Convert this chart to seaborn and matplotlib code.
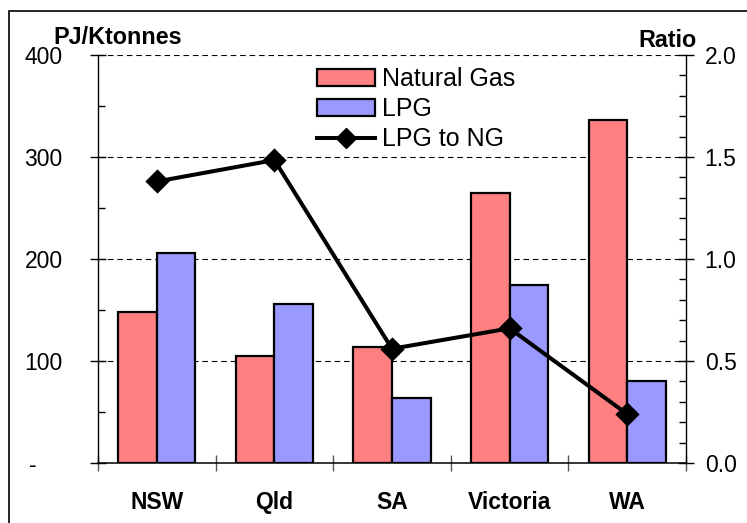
import numpy as np
import pandas as pd
import matplotlib
matplotlib.use("Agg")
import matplotlib.pyplot as plt
import matplotlib.patches as mpatches
from matplotlib.lines import Line2D
from matplotlib.ticker import MultipleLocator, FixedLocator, FormatStrFormatter
import seaborn as sns

plt.rcParams['font.family'] = ['Liberation Sans', 'DejaVu Sans']

regions = ["NSW", "Qld", "SA", "Victoria", "WA"]
natural_gas = [148, 105, 114, 265, 336]
lpg = [206, 156, 64, 175, 80]
ratio = [1.38, 1.485, 0.56, 0.66, 0.24]
left_ticks = [0, 100, 200, 300, 400]
left_labels = ["-    ", "100", "200", "300", "400"]

df = pd.DataFrame({
    "Region": regions * 2,
    "Value": natural_gas + lpg,
    "Fuel": ["Natural Gas"] * len(regions) + ["LPG"] * len(regions),
})

FS = 16.5
LFS = 18
ng_color = "#FF8080"
lpg_color = "#9999FF"

fig = plt.figure(figsize=(7.47, 5.23), dpi=100)
ax = fig.add_axes([98 / 747, 1 - 463 / 523, (686 - 98) / 747, (463 - 55) / 523])

sns.barplot(data=df, x="Region", y="Value", hue="Fuel",
            palette={"Natural Gas": ng_color, "LPG": lpg_color},
            edgecolor="black", linewidth=1.6, width=0.655, gap=0,
            saturation=1, legend=False, ax=ax)

ax.set_xlim(-0.5, 4.5)
ax.set_ylim(0, 400)
ax.set_xlabel("")
ax.set_ylabel("")
ax.set_axisbelow(True)
ax.yaxis.grid(True, color="black", linewidth=0.8, linestyle=(0, (5, 3.5)))
ax.xaxis.grid(False)

ax.yaxis.set_major_locator(FixedLocator(left_ticks))
ax.set_yticklabels(left_labels)
ax.yaxis.set_minor_locator(MultipleLocator(50))
ax.tick_params(axis="y", which="major", direction="inout", length=11, width=1,
               labelsize=FS, pad=20)
ax.tick_params(axis="y", which="minor", direction="in", length=5, width=1)

ax.xaxis.set_major_locator(FixedLocator(np.arange(-0.5, 5, 1)))
ax.xaxis.set_minor_locator(FixedLocator(np.arange(len(regions))))
ax.set_xticklabels([""] * 6)
ax.set_xticklabels(regions, minor=True, fontweight="bold", fontsize=FS)
ax.tick_params(axis="x", which="major", direction="inout", length=12, width=1,
               color="#555555")
ax.tick_params(axis="x", which="minor", length=0, pad=20)

for s in ["top", "right"]:
    ax.spines[s].set_visible(False)
ax.spines["left"].set_linewidth(1)
ax.spines["bottom"].set_linewidth(1.1)

ax2 = ax.twinx()
sns.pointplot(x=regions, y=ratio, ax=ax2, color="black", markers="D",
              markersize=10, linewidth=2.9)
ax2.set_xlim(-0.5, 4.5)
ax2.set_ylim(0, 2.0)
ax2.set_ylabel("")
ax2.yaxis.set_major_locator(MultipleLocator(0.5))
ax2.yaxis.set_minor_locator(MultipleLocator(0.1))
ax2.yaxis.set_major_formatter(FormatStrFormatter("%.1f"))
ax2.tick_params(axis="y", which="major", direction="inout", length=11, width=1,
                labelsize=FS, pad=8)
ax2.tick_params(axis="y", which="minor", direction="in", length=5, width=1)
for s in ["top", "left", "bottom"]:
    ax2.spines[s].set_visible(False)
ax2.spines["right"].set_linewidth(1)

handles = [
    mpatches.Patch(facecolor=ng_color, edgecolor="black", linewidth=1.6, label="Natural Gas"),
    mpatches.Patch(facecolor=lpg_color, edgecolor="black", linewidth=1.6, label="LPG"),
    Line2D([0], [0], color="black", linewidth=2.9, marker="D", markersize=10, label="LPG to NG"),
]
ax2.legend(handles=handles, loc="upper left", bbox_to_anchor=(317 / 747, 1 - 67 / 523),
           bbox_transform=fig.transFigure, frameon=False, fontsize=LFS,
           handlelength=2.3, handleheight=0.7, handletextpad=0.28,
           labelspacing=0.25, borderpad=0, borderaxespad=0)

fig.text(53 / 747, 1 - 44 / 523, "PJ/Ktonnes", fontsize=16.8, fontweight="bold",
         ha="left", va="baseline")
fig.text(697 / 747, 1 - 47 / 523, "Ratio", fontsize=16.8, fontweight="bold",
         ha="right", va="baseline")

fig.patches.append(mpatches.Rectangle((9 / 747, -0.1), 1.2, 1 - 11 / 523 + 0.1,
                                      transform=fig.transFigure, fill=False,
                                      edgecolor="black", linewidth=1.2))

fig.savefig("out.png", dpi=100)
